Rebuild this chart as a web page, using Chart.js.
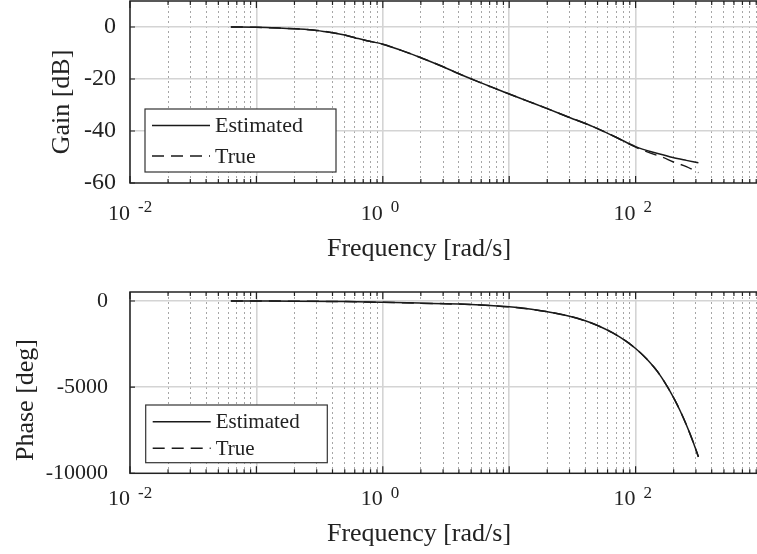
<!DOCTYPE html>
<html>
<head>
<meta charset="utf-8">
<script src="https://cdn.jsdelivr.net/npm/chart.js@4.4.0/dist/chart.umd.min.js"></script>
<style>
  html, body { margin: 0; padding: 0; background: #fff; overflow: hidden; width: 757px; height: 554px; }
  .box { position: absolute; left: 0; width: 780px; height: 277px; }
  #topBox { top: 0; }
  #botBox { top: 277px; }
</style>
</head>
<body>
<div class="box" id="topBox"><canvas id="gainChart" width="780" height="277"></canvas></div>
<div class="box" id="botBox"><canvas id="phaseChart" width="780" height="277"></canvas></div>
<script>
// frequency points [rad/s]
const gainFreq = [0.0628, 0.1, 0.15, 0.2, 0.3, 0.4, 0.5, 0.6, 0.75, 1, 1.4, 2, 3, 4, 6, 9, 14, 20, 30, 46, 70, 100, 133, 164, 197, 252, 314];
const gainEst  = [0, -0.1, -0.4, -0.7, -1.3, -2.2, -3.1, -4.1, -5.3, -6.6, -9.0, -11.8, -15.3, -18.0, -21.5, -24.9, -28.5, -31.4, -34.8, -38.3, -42.4, -46.0, -48.0, -49.1, -50.2, -51.3, -52.2];
const gainTrue = [0, -0.1, -0.4, -0.7, -1.3, -2.2, -3.1, -4.1, -5.3, -6.6, -9.0, -11.8, -15.3, -18.0, -21.5, -24.9, -28.5, -31.4, -34.8, -38.3, -42.4, -46.2, -48.6, -50.1, -51.8, -53.7, -56.0];

const phaseFreq = [0.0628, 0.1, 0.2, 0.5, 1, 2, 4, 6, 10, 15, 20, 30, 40, 50, 66, 84, 100, 122, 140, 155, 170, 186, 205, 224, 250, 280, 314];
const phaseEst  = [-2, -4, -10, -35, -75, -125, -180, -235, -340, -480, -620, -880, -1150, -1420, -1850, -2330, -2760, -3350, -3850, -4270, -4720, -5200, -5770, -6340, -7120, -8020, -9040];
const phaseTrue = [-2, -4, -10, -35, -75, -125, -180, -235, -340, -480, -620, -880, -1150, -1420, -1850, -2330, -2760, -3350, -3850, -4270, -4720, -5200, -5770, -6340, -7120, -8030, -9060];

const gainTicks = [-60, -40, -20, 0];
const phaseTicks = [-10000, -5000, 0];
const decadeLabels = [0.01, 1, 100];
const decadeBase = ['10', '10', '10'];
const decadeExp = ['-2', '0', '2'];
const seriesNames = ['Estimated', 'True'];

const FONT = '"Liberation Serif", "Times New Roman", serif';
const INK = '#222';

// tick positions of a log axis: 1..9 x 10^e
const xTickValues = [];
for (let e = -2; e <= 3; e++) {
  for (let m = 1; m <= 9; m++) {
    if (e === 3 && m > 1) break;
    xTickValues.push(parseFloat((m * Math.pow(10, e)).toPrecision(6)));
  }
}
const isDecade = v => Math.abs(Math.log10(v) - Math.round(Math.log10(v))) < 1e-9;

function points(fr, vals) {
  return fr.map((f, i) => ({ x: f, y: vals[i] }));
}

function bodePlugin(cfg) {
  return {
    id: 'bode_' + cfg.name,
    afterDraw(chart) {
      const ctx = chart.ctx;
      const a = chart.chartArea;
      const xs = chart.scales.x, ys = chart.scales.y;
      ctx.save();
      // frame
      ctx.strokeStyle = INK;
      ctx.lineWidth = 1.5;
      ctx.setLineDash([]);
      ctx.strokeRect(a.left, a.top, a.right - a.left, a.bottom - a.top);
      // inward tick marks
      ctx.lineWidth = 1.2;
      ctx.beginPath();
      xs.ticks.forEach(t => {
        const px = xs.getPixelForValue(t.value);
        const len = isDecade(t.value) ? 7 : 4;
        ctx.moveTo(px, a.bottom); ctx.lineTo(px, a.bottom - len);
        ctx.moveTo(px, a.top); ctx.lineTo(px, a.top + len);
      });
      ys.ticks.forEach(t => {
        const py = ys.getPixelForValue(t.value);
        ctx.moveTo(a.left, py); ctx.lineTo(a.left + 5, py);
      });
      ctx.stroke();
      // exponents of the decade labels
      ctx.fillStyle = INK;
      ctx.font = '17px ' + FONT;
      ctx.textAlign = 'left';
      ctx.textBaseline = 'alphabetic';
      decadeLabels.forEach((d, i) => {
        ctx.fillText(decadeExp[i], xs.getPixelForValue(d) + 8, cfg.expY);
      });
      // axis titles
      ctx.font = '26px ' + FONT;
      ctx.textAlign = 'center';
      ctx.fillText('Frequency [rad/s]', cfg.xTitleX, cfg.xTitleY);
      ctx.save();
      ctx.translate(cfg.yTitleX, cfg.yTitleY);
      ctx.rotate(-Math.PI / 2);
      ctx.fillText(cfg.yTitle, 0, 0);
      ctx.restore();
      // legend
      const L = cfg.legend;
      ctx.fillStyle = '#fff';
      ctx.fillRect(L.x, L.y, L.w, L.h);
      ctx.strokeStyle = '#333';
      ctx.lineWidth = 1.2;
      ctx.strokeRect(L.x, L.y, L.w, L.h);
      chart.data.datasets.forEach((ds, i) => {
        const y = L.rows[i];
        ctx.strokeStyle = ds.borderColor;
        ctx.lineWidth = ds.borderWidth;
        ctx.setLineDash(ds.borderDash || []);
        ctx.beginPath();
        ctx.moveTo(L.x + 7, y);
        ctx.lineTo(L.x + 65, y);
        ctx.stroke();
        ctx.setLineDash([]);
        ctx.fillStyle = INK;
        ctx.font = L.font + 'px ' + FONT;
        ctx.textAlign = 'left';
        ctx.textBaseline = 'middle';
        ctx.fillText(ds.label, L.x + 70, y + 1);
      });
      ctx.restore();
    }
  };
}

function makeChart(id, cfg) {
  return new Chart(document.getElementById(id), {
    type: 'line',
    data: {
      datasets: [
        { label: seriesNames[0], data: points(cfg.freq, cfg.est), borderColor: '#1a1a1a', borderWidth: 1.5,
          pointRadius: 0, fill: false, cubicInterpolationMode: 'monotone' },
        { label: seriesNames[1], data: points(cfg.freq, cfg.tru), borderColor: '#1a1a1a', borderWidth: 1.5,
          borderDash: [12, 7], pointRadius: 0, fill: false, cubicInterpolationMode: 'monotone' }
      ]
    },
    options: {
      responsive: false,
      animation: false,
      layout: { autoPadding: false, padding: { top: cfg.padTop, left: 0, right: 18, bottom: cfg.padBottom } },
      plugins: { legend: { display: false }, tooltip: { enabled: false } },
      scales: {
        x: {
          type: 'logarithmic', min: 0.01, max: 1000,
          afterBuildTicks: s => { s.ticks = xTickValues.map(v => ({ value: v })); },
          afterFit: s => { s.height = 60; s.paddingLeft = 0; s.paddingRight = 0; },
          ticks: {
            autoSkip: false, maxRotation: 0, minRotation: 0, labelOffset: -11, padding: cfg.xTickPad,
            color: INK, font: { family: FONT, size: 22 },
            callback: v => {
              const i = decadeLabels.findIndex(d => Math.abs(v - d) / d < 1e-9);
              return i >= 0 ? decadeBase[i] : '';
            }
          },
          grid: {
            drawTicks: false,
            color: c => (c.tick && isDecade(c.tick.value)) ? '#d4d4d4' : '#a6a6a6',
            lineWidth: c => (c.tick && isDecade(c.tick.value)) ? 1.6 : 1
          },
          border: { display: false, dash: c => (c.tick && !isDecade(c.tick.value)) ? [2, 3] : [] }
        },
        y: {
          min: cfg.yMin, max: cfg.yMax,
          afterBuildTicks: s => { s.ticks = cfg.yTicks.map(v => ({ value: v })); },
          afterFit: s => { s.width = 130; s.paddingTop = 0; s.paddingBottom = 0; },
          ticks: { padding: cfg.yTickPad, color: INK, font: { family: FONT, size: cfg.yFont },
            callback: v => String(v) },
          grid: {
            drawTicks: false,
            color: c => (c.tick && c.tick.value === cfg.yMin) ? 'rgba(0,0,0,0)' : '#d4d4d4',
            lineWidth: 1.5
          },
          border: { display: false }
        }
      }
    },
    plugins: [bodePlugin(cfg)]
  });
}

makeChart('gainChart', {
  name: 'gain', freq: gainFreq, est: gainEst, tru: gainTrue,
  yMin: -60, yMax: 10, yTicks: gainTicks, yTickPad: 14, yFont: 24,
  padTop: 1, padBottom: 34, xTickPad: 18,
  expY: 211.5, xTitleX: 419, xTitleY: 256,
  yTitle: 'Gain [dB]', yTitleX: 69, yTitleY: 102,
  legend: { x: 145, y: 109, w: 191, h: 63, rows: [125.5, 156], font: 22 }
});

makeChart('phaseChart', {
  name: 'phase', freq: phaseFreq, est: phaseEst, tru: phaseTrue,
  yMin: -10000, yMax: 522, yTicks: phaseTicks, yTickPad: 22, yFont: 22,
  padTop: 15, padBottom: 20.7, xTickPad: 12.8,
  expY: 220.7, xTitleX: 419, xTitleY: 263.7,
  yTitle: 'Phase [deg]', yTitleX: 33, yTitleY: 123,
  legend: { x: 145.7, y: 128, w: 181.6, h: 57.7, rows: [144.7, 171.3], font: 21 }
});
</script>
</body>
</html>
